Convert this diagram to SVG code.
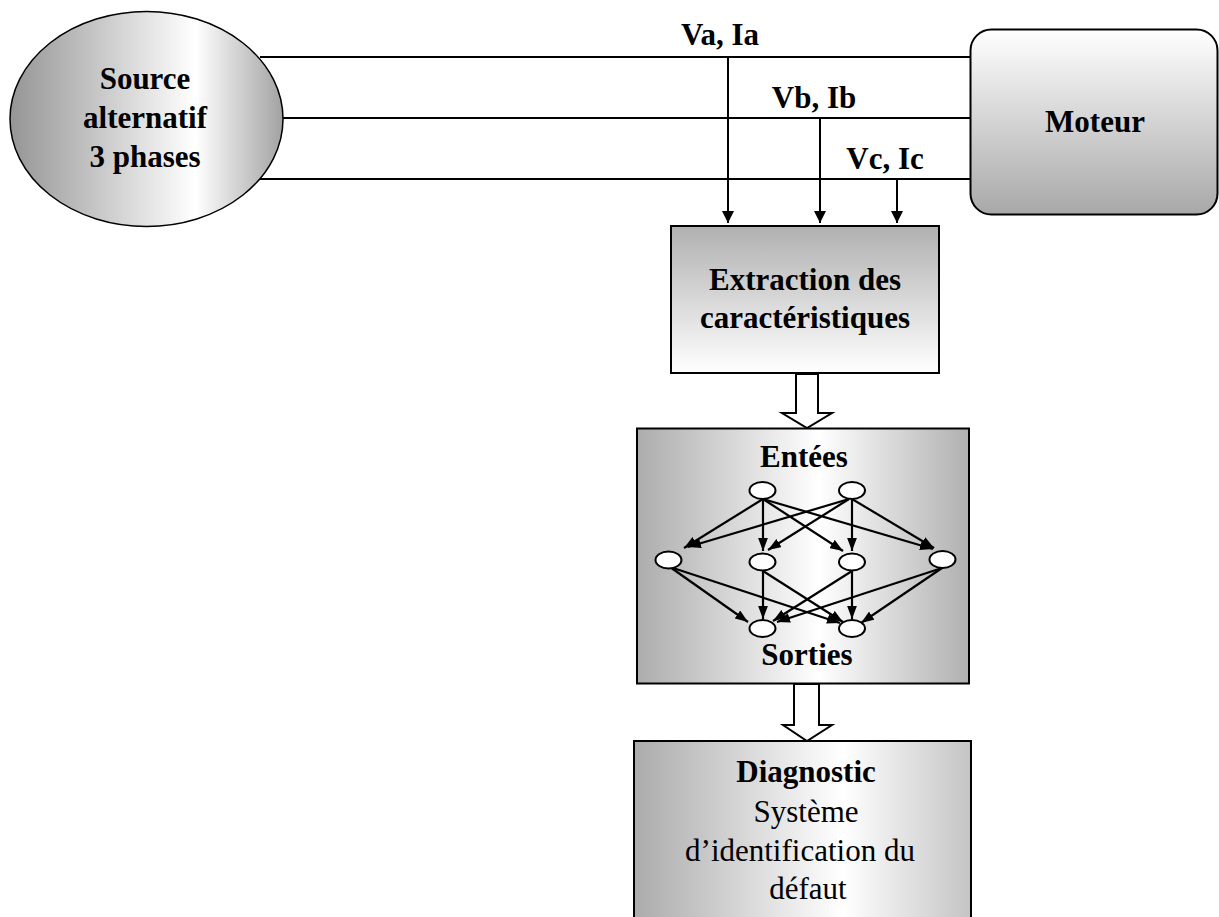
<svg xmlns="http://www.w3.org/2000/svg" width="1219" height="917" viewBox="0 0 1219 917">
  <defs>
    <linearGradient id="gSource" x1="0" y1="0" x2="1" y2="0">
      <stop offset="0" stop-color="#959595"/>
      <stop offset="0.68" stop-color="#ffffff"/>
      <stop offset="1" stop-color="#a2a2a2"/>
    </linearGradient>
    <linearGradient id="gMotor" x1="0" y1="0" x2="0" y2="1">
      <stop offset="0" stop-color="#ffffff"/>
      <stop offset="1" stop-color="#a8a8a8"/>
    </linearGradient>
    <linearGradient id="gExtract" x1="0" y1="0" x2="0" y2="1">
      <stop offset="0" stop-color="#b0b0b0"/>
      <stop offset="1" stop-color="#ffffff"/>
    </linearGradient>
    <linearGradient id="gNet" x1="0" y1="0" x2="1" y2="0">
      <stop offset="0" stop-color="#acacac"/>
      <stop offset="0.55" stop-color="#ffffff"/>
      <stop offset="1" stop-color="#b0b0b0"/>
    </linearGradient>
    <linearGradient id="gDiag" x1="0" y1="0" x2="1" y2="0">
      <stop offset="0" stop-color="#ababab"/>
      <stop offset="0.62" stop-color="#ffffff"/>
      <stop offset="1" stop-color="#c4c4c4"/>
    </linearGradient>
    <marker id="arrowBig" viewBox="0 0 12 12" refX="12" refY="6" markerWidth="12" markerHeight="14" markerUnits="userSpaceOnUse" orient="auto">
      <path d="M0,0 L12,6 L0,12 Z" fill="#000"/>
    </marker>
    <marker id="arrowSmall" viewBox="0 0 12 9" refX="12" refY="4.5" markerWidth="13" markerHeight="10" markerUnits="userSpaceOnUse" orient="auto">
      <path d="M0,0 L12,4.5 L0,9 Z" fill="#000"/>
    </marker>
  </defs>
  <style>
    .bold { font-family: "Liberation Serif", "Times New Roman", serif; font-weight: bold; font-size: 31px; fill: #000; }
    .reg { font-family: "Liberation Serif", "Times New Roman", serif; font-size: 31px; fill: #000; }
    .wire { stroke: #000; stroke-width: 2; fill: none; }
    .probe { stroke: #000; stroke-width: 2; fill: none; marker-end: url(#arrowBig); }
    .syn { stroke: #000; stroke-width: 2.2; fill: none; marker-end: url(#arrowSmall); }
    .neuron { fill: #fff; stroke: #000; stroke-width: 2; }
    .box { stroke: #000; stroke-width: 2; }
    .hollow { fill: #fff; stroke: #000; stroke-width: 2; stroke-linejoin: miter; }
  </style>

  <!-- three-phase supply lines and measurement taps -->
  <g id="connectors">
    <line class="wire" x1="260" y1="57" x2="971" y2="57"/>
    <line class="wire" x1="282" y1="118" x2="971" y2="118"/>
    <line class="wire" x1="260" y1="179" x2="971" y2="179"/>
    <line class="probe" x1="728" y1="57" x2="728" y2="223"/>
    <line class="probe" x1="820" y1="118" x2="820" y2="223"/>
    <line class="probe" x1="897" y1="179" x2="897" y2="223"/>
    <!-- block arrows between stages -->
    <path class="hollow" d="M796,374 L818,374 L818,413 L832,413 L807,428 L782,413 L796,413 Z"/>
    <path class="hollow" d="M794,684 L819,684 L819,725 L832,725 L807,741 L783,725 L794,725 Z"/>
  </g>

  <g id="labels">
    <text class="bold" x="720" y="45" text-anchor="middle">Va, Ia</text>
    <text class="bold" x="814" y="108" text-anchor="middle">Vb, Ib</text>
    <text class="bold" x="885" y="169" text-anchor="middle">Vc, Ic</text>
  </g>

  <g id="source">
    <ellipse cx="146.5" cy="119" rx="136.5" ry="107.5" fill="url(#gSource)" stroke="#000" stroke-width="1.5"/>
    <text class="bold" x="145" y="89" text-anchor="middle">Source</text>
    <text class="bold" x="145" y="128" text-anchor="middle">alternatif</text>
    <text class="bold" x="145" y="167" text-anchor="middle">3 phases</text>
  </g>

  <g id="moteur">
    <rect x="970.5" y="29.5" width="247" height="185" rx="21" ry="21" fill="url(#gMotor)" stroke="#000" stroke-width="2"/>
    <text class="bold" x="1095" y="132" text-anchor="middle">Moteur</text>
  </g>

  <g id="extraction">
    <rect class="box" x="671" y="226" width="268" height="147" fill="url(#gExtract)"/>
    <text class="bold" x="805" y="290" text-anchor="middle">Extraction des</text>
    <text class="bold" x="805" y="328" text-anchor="middle">caractéristiques</text>
  </g>

  <g id="reseau">
    <rect class="box" x="637" y="428.5" width="332" height="255" fill="url(#gNet)"/>
    <text class="bold" x="804" y="467" text-anchor="middle">Entées</text>
    <text class="bold" x="807" y="665" text-anchor="middle">Sorties</text>
    <g id="synapses">
      <!-- input layer to hidden layer -->
      <line class="syn" x1="763" y1="499" x2="684" y2="548"/>
      <line class="syn" x1="763" y1="499" x2="763" y2="551"/>
      <line class="syn" x1="763" y1="499" x2="843" y2="551"/>
      <line class="syn" x1="763" y1="499" x2="933" y2="549"/>
      <line class="syn" x1="849" y1="499" x2="688" y2="547"/>
      <line class="syn" x1="849" y1="499" x2="768" y2="550"/>
      <line class="syn" x1="852" y1="499" x2="852" y2="551"/>
      <line class="syn" x1="852" y1="499" x2="934" y2="548"/>
      <!-- hidden layer to output layer -->
      <line class="syn" x1="670" y1="567" x2="748" y2="622"/>
      <line class="syn" x1="670" y1="567" x2="840" y2="623"/>
      <line class="syn" x1="763" y1="571" x2="763" y2="619"/>
      <line class="syn" x1="763" y1="571" x2="843" y2="622"/>
      <line class="syn" x1="852" y1="571" x2="773" y2="621"/>
      <line class="syn" x1="852" y1="571" x2="852" y2="619"/>
      <line class="syn" x1="942" y1="568" x2="777" y2="622"/>
      <line class="syn" x1="942" y1="568" x2="861" y2="623"/>
    </g>
    <g id="neurones">
      <ellipse class="neuron" cx="762.5" cy="490.5" rx="13" ry="8.5"/>
      <ellipse class="neuron" cx="852" cy="490.5" rx="13" ry="8.5"/>
      <ellipse class="neuron" cx="668.5" cy="560" rx="13" ry="8.5"/>
      <ellipse class="neuron" cx="762.5" cy="562" rx="13" ry="8.5"/>
      <ellipse class="neuron" cx="852" cy="562" rx="13" ry="8.5"/>
      <ellipse class="neuron" cx="942.5" cy="559.5" rx="13" ry="8.5"/>
      <ellipse class="neuron" cx="762.5" cy="628.5" rx="13" ry="8.5"/>
      <ellipse class="neuron" cx="852" cy="628.5" rx="13" ry="8.5"/>
    </g>
  </g>

  <g id="diagnostic">
    <rect class="box" x="634" y="741" width="337" height="190" fill="url(#gDiag)"/>
    <text class="bold" x="806" y="782" text-anchor="middle">Diagnostic</text>
    <text class="reg" x="806" y="822" text-anchor="middle">Système</text>
    <text class="reg" x="800" y="861" text-anchor="middle">d’identification du</text>
    <text class="reg" x="808" y="899" text-anchor="middle">défaut</text>
  </g>
</svg>
